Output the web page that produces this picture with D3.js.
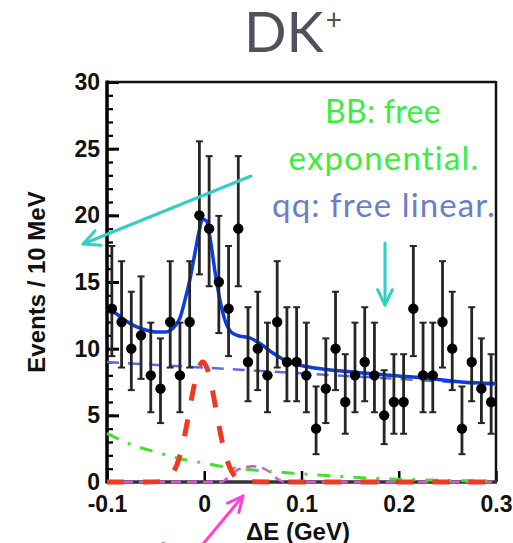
<!DOCTYPE html>
<html>
<head>
<meta charset="utf-8">
<script src="https://cdn.jsdelivr.net/npm/d3@7"></script>
<style>
  html, body { margin: 0; padding: 0; background: #ffffff; }
  svg { display: block; }
</style>
</head>
<body>
<svg id="chart" width="513" height="543"></svg>
<script>
// ---------------- DATA ----------------
const binCenters = [-0.095,-0.085,-0.075,-0.065,-0.055,-0.045,-0.035,-0.025,-0.015,-0.005,
                     0.005, 0.015, 0.025, 0.035, 0.045, 0.055, 0.065, 0.075, 0.085, 0.095,
                     0.105, 0.115, 0.125, 0.135, 0.145, 0.155, 0.165, 0.175, 0.185, 0.195,
                     0.205, 0.215, 0.225, 0.235, 0.245, 0.255, 0.265, 0.275, 0.285, 0.295];
const counts = [13,12,10,11,8,7,12,8,12,20,
                19,15,13,19,9,10,8,12,9,9,
                8,4,7,10,6,8,9,8,5,6,
                6,13,8,8,12,10,4,9,7,6];
// Poisson 68% interval bounds indexed by count n
const poissonLow  = [0,0.173,0.708,1.367,2.086,2.840,3.620,4.419,5.232,6.057,6.891,
                     7.734,8.585,9.441,10.30,11.17,12.04,12.92,13.80,14.68,15.57];
const poissonHigh = [1.841,3.300,4.638,5.918,7.163,8.382,9.584,10.77,11.95,13.11,14.27,
                     15.42,16.56,17.70,18.83,19.96,21.08,22.20,23.32,24.44,25.55];

// total fit (blue solid)
const totalX = [-0.1,-0.09,-0.08,-0.07,-0.06,-0.05,-0.04,-0.03,-0.025,-0.02,-0.015,-0.01,-0.005,-0.002,
                0.002,0.006,0.011,0.016,0.021,0.027,0.034,0.047,0.057,0.071,0.085,0.102,0.13,0.16,0.19,0.23,0.265,0.3];
const totalY = [13.0,12.6,12.05,11.65,11.4,11.25,11.25,11.7,12.3,13.6,15.1,17.0,18.9,19.7,
                19.6,18.3,15.8,13.7,12.2,11.3,11.0,10.8,10.4,9.65,9.05,8.7,8.4,8.2,8.0,7.78,7.5,7.38];
// qq continuum (blue dashed)
const qqX = [-0.1, 0.3];
const qqY = [9.0, 7.3];
// BB background (green dashed)
const bbX = [-0.1,-0.08,-0.05,-0.025,0,0.025,0.05,0.1,0.15,0.2,0.25,0.3];
const bbY = [3.65,2.95,2.25,1.75,1.42,1.1,0.9,0.62,0.37,0.2,0.12,0.07];
// signal (red dashed)
const sigX = [-0.1,-0.06,-0.045,-0.0365,-0.0315,-0.0265,-0.0215,-0.0165,-0.0115,-0.0065,-0.0015,
              0.0035,0.0085,0.0135,0.0185,0.0235,0.0285,0.0335,0.0435,0.08,0.3];
const sigY = [0,0,0.03,0.3,0.76,1.63,3.0,4.86,6.84,8.4,9.0,8.4,6.84,4.86,3.0,1.63,0.76,0.3,0.03,0,0];
// peaking background (magenta dashed)
const pkX = [-0.1,0.018,0.023,0.028,0.034,0.042,0.05,0.058,0.064,0.069,0.074,0.079,0.085,0.3];
const pkY = [0,0,0.25,0.55,0.9,1.1,1.18,1.1,0.9,0.65,0.3,0.08,0,0];

const xTicks = [-0.1, 0, 0.1, 0.2, 0.3];
const yTicks = [0, 5, 10, 15, 20, 25, 30];
const yMinorTicks = [0,1,2,3,4,5,6,7,8,9,10,11,12,13,14,15,16,17,18,19,20,21,22,23,24,25,26,27,28,29,30];

const titleMain = "DK";
const titleSup = "+";
const yLabel = "Events / 10 MeV";
const xLabel = "\u0394E (GeV)";
const noteLines = ["BB: free", "exponential.", "qq: free linear."];
const bottomNote = "free pion";

// ---------------- DRAW ----------------
const svg = d3.select("#chart");
const L = 107, R = 496, T = 82, B = 482;
const x = d3.scaleLinear().domain([-0.1, 0.3]).range([L, R]);
const y = d3.scaleLinear().domain([0, 30]).range([B, T]);

// title
const title = svg.append("text")
  .attr("x", 244).attr("y", 52)
  .attr("font-family", "Lato, 'Open Sans', sans-serif")
  .attr("font-size", 56)
  .attr("fill", "#51515b");
title.append("tspan").text(titleMain);
title.append("tspan").attr("font-size", 28).attr("dy", -22).attr("dx", 2).text(titleSup);

// axes
const axisFont = "'Liberation Sans', Arial, Helvetica, sans-serif";
const yAxisMinor = d3.axisLeft(y).tickValues(yMinorTicks).tickSize(-6).tickFormat("");
svg.append("g").attr("transform", `translate(${L},0)`).call(yAxisMinor)
  .call(g => g.select(".domain").remove())
  .call(g => g.selectAll("line").attr("stroke", "#000").attr("stroke-width", 2.2));

const yAxis = d3.axisLeft(y).tickValues(yTicks).tickSize(-12).tickPadding(7);
svg.append("g").attr("transform", `translate(${L},0)`).call(yAxis)
  .call(g => g.select(".domain").remove())
  .call(g => g.selectAll("line").attr("stroke", "#000").attr("stroke-width", 3))
  .call(g => g.selectAll("text").attr("font-family", axisFont).attr("font-weight", "bold")
        .attr("font-size", 23).attr("fill", "#111"));

const xAxis = d3.axisBottom(x).tickValues(xTicks).tickSize(-11).tickPadding(14)
  .tickFormat(d => d === 0 ? "0" : d.toFixed(1));
svg.append("g").attr("transform", `translate(0,${B})`).call(xAxis)
  .call(g => g.select(".domain").remove())
  .call(g => g.selectAll("line").attr("stroke", "#000").attr("stroke-width", 2.5))
  .call(g => g.selectAll("text").attr("font-family", axisFont).attr("font-weight", "bold")
        .attr("font-size", 23).attr("fill", "#111"));

// frame
svg.append("line").attr("x1", L).attr("x2", R).attr("y1", T).attr("y2", T).attr("stroke", "#111").attr("stroke-width", 2.5);
svg.append("line").attr("x1", R).attr("x2", R).attr("y1", T - 1).attr("y2", B).attr("stroke", "#111").attr("stroke-width", 2.5);
svg.append("line").attr("x1", L).attr("x2", L).attr("y1", T - 1.5).attr("y2", B + 1.5).attr("stroke", "#000").attr("stroke-width", 3.5);
svg.append("line").attr("x1", L).attr("x2", R + 1).attr("y1", B).attr("y2", B).attr("stroke", "#333").attr("stroke-width", 3.5);

// axis titles
svg.append("text")
  .attr("transform", "translate(45,282) rotate(-90)")
  .attr("text-anchor", "middle")
  .attr("font-family", axisFont).attr("font-weight", "bold").attr("font-size", 24)
  .attr("fill", "#111").text(yLabel);
svg.append("text")
  .attr("x", 298).attr("y", 540).attr("text-anchor", "middle")
  .attr("font-family", axisFont).attr("font-weight", "bold").attr("font-size", 24)
  .attr("fill", "#111").text(xLabel);

// curves
const line = d3.line().x(d => x(d[0])).y(d => y(d[1])).curve(d3.curveMonotoneX);
const zip = (xs, ys) => xs.map((v, i) => [v, ys[i]]);

const plot = svg.append("g");
plot.append("path").datum(zip(pkX, pkY)).attr("d", line)
  .attr("fill", "none").attr("stroke", "#e04ee0").attr("stroke-width", 2.5).attr("stroke-dasharray", "10,6");
plot.append("path").datum(zip(bbX, bbY)).attr("d", line)
  .attr("fill", "none").attr("stroke", "#48dd30").attr("stroke-width", 3).attr("stroke-dasharray", "13,10,3,10");
plot.append("path").datum(zip(qqX, qqY)).attr("d", line)
  .attr("fill", "none").attr("stroke", "#5a6ce0").attr("stroke-width", 2.5).attr("stroke-dasharray", "12,9");
plot.append("path").datum(zip(sigX, sigY)).attr("d", line)
  .attr("fill", "none").attr("stroke", "#ee3a22").attr("stroke-width", 5).attr("stroke-dasharray", "17,19");

// data points with error bars
const pts = svg.append("g");
const data = binCenters.map((c, i) => ({c, n: counts[i]}));
pts.selectAll(".eb").data(data).enter().append("line")
  .attr("x1", d => x(d.c)).attr("x2", d => x(d.c))
  .attr("y1", d => y(poissonLow[d.n])).attr("y2", d => y(poissonHigh[d.n]))
  .attr("stroke", "#262626").attr("stroke-width", 2.8);
pts.selectAll(".capt").data(data).enter().append("line")
  .attr("x1", d => x(d.c) - 3.5).attr("x2", d => x(d.c) + 3.5)
  .attr("y1", d => y(poissonHigh[d.n])).attr("y2", d => y(poissonHigh[d.n]))
  .attr("stroke", "#262626").attr("stroke-width", 2);
pts.selectAll(".capb").data(data).enter().append("line")
  .attr("x1", d => x(d.c) - 3.5).attr("x2", d => x(d.c) + 3.5)
  .attr("y1", d => y(poissonLow[d.n])).attr("y2", d => y(poissonLow[d.n]))
  .attr("stroke", "#262626").attr("stroke-width", 2);

svg.append("path").datum(zip(totalX, totalY)).attr("d", line)
  .attr("fill", "none").attr("stroke", "#0a3de6").attr("stroke-width", 3.5);

pts.selectAll(".dot").data(data).enter().append("circle")
  .attr("cx", d => x(d.c)).attr("cy", d => y(d.n)).attr("r", 5.2)
  .attr("fill", "#000");
svg.node().appendChild(pts.node());

// annotations
const noteFont = "Lato, 'Open Sans', sans-serif";
svg.append("text").attr("x", 383).attr("y", 123).attr("text-anchor", "middle")
  .attr("font-family", noteFont).attr("font-size", 32).attr("letter-spacing", 0.3)
  .attr("fill", "#3cee3c").text(noteLines[0]);
svg.append("text").attr("x", 384).attr("y", 170).attr("text-anchor", "middle")
  .attr("font-family", noteFont).attr("font-size", 33).attr("letter-spacing", 1.2)
  .attr("fill", "#3cee3c").text(noteLines[1]);
svg.append("text").attr("x", 384).attr("y", 217).attr("text-anchor", "middle")
  .attr("font-family", noteFont).attr("font-size", 33).attr("letter-spacing", 1.1)
  .attr("fill", "#6b7ec8").text(noteLines[2]);

svg.append("text").attr("x", 72).attr("y", 568)
  .attr("font-family", noteFont).attr("font-size", 34).attr("fill", "#ff3fd8").text(bottomNote);

function arrow(x1, y1, x2, y2, color, w, head) {
  const g = svg.append("g").attr("stroke", color).attr("stroke-width", w)
    .attr("fill", "none").attr("stroke-linecap", "round").attr("stroke-linejoin", "round");
  g.append("line").attr("x1", x1).attr("y1", y1).attr("x2", x2).attr("y2", y2);
  const a = Math.atan2(y2 - y1, x2 - x1);
  const s = 0.45;
  g.append("polyline").attr("points", [
    [x2 - head * Math.cos(a - s), y2 - head * Math.sin(a - s)],
    [x2, y2],
    [x2 - head * Math.cos(a + s), y2 - head * Math.sin(a + s)]
  ].map(p => p.join(",")).join(" "));
}
arrow(251, 176, 83, 244, "#33cfc3", 3, 18);
arrow(385, 243, 385, 305, "#2fcfc6", 3, 17);
arrow(198, 550, 243, 496, "#ff3fd8", 3, 17);
</script>
</body>
</html>
